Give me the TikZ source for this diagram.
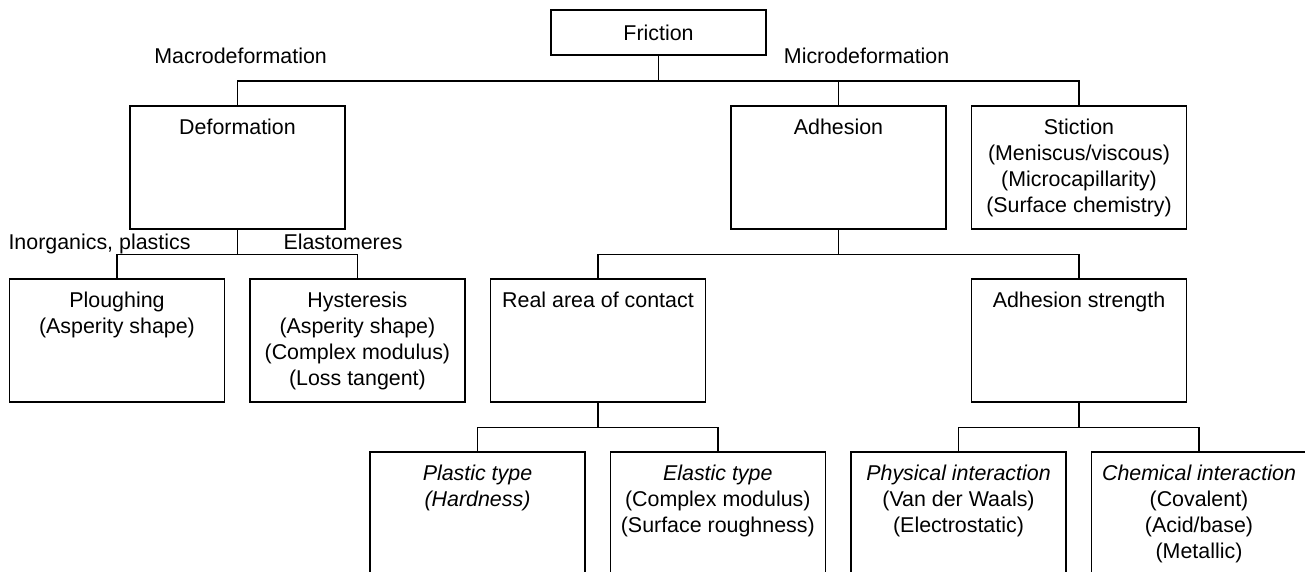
\documentclass[tikz,border=0pt]{standalone}
\usepackage{fontspec}
\setmainfont{Liberation Sans}
\newcommand\fs{\fontsize{21.4pt}{26pt}\selectfont}
\begin{document}
\begin{tikzpicture}[x=1pt,y=-1pt,
  box/.style={draw, line width=1.6pt, minimum width=215pt, minimum height=123pt, inner sep=0pt, anchor=north},
  topbox/.style={draw, line width=1.6pt, minimum width=215pt, minimum height=45pt, inner sep=0pt, font=\fs},
  txt/.style={anchor=north, align=center, inner sep=0pt, font=\fs},
  lab/.style={anchor=base, inner sep=0pt, font=\fs},
  conn/.style={line width=1.6pt}]
\useasboundingbox (0,0) rectangle (1305,572);
\clip (0,0) rectangle (1305,572);

% level 0
\node[topbox] (fric) at (658.5,32.5) {Friction};

% level 1
\node[box] (def) at (237.5,105) {};
\node[box] (adh) at (838.5,105) {};
\node[box] (sti) at (1079,105) {};
\node[txt] (deft) at ([yshift=-11.5pt]def.north) {\strut Deformation};
\node[txt] (adht) at ([yshift=-11.5pt]adh.north) {\strut Adhesion};
\node[txt] (stit) at ([yshift=-11.5pt]sti.north) {\strut Stiction\\(Meniscus/viscous)\\(Microcapillarity)\\(Surface chemistry)};

\node[lab] (macro) at (240.6,63.7) {Macrodeformation};
\node[lab] (micro) at (866.6,63.7) {Microdeformation};

\draw[conn] (fric.south) -- ++(0,25) coordinate (j0);
\draw[conn] (def.north) -- (def.north |- j0) -- (sti.north |- j0) -- (sti.north);
\draw[conn] (adh.north) -- (adh.north |- j0);

% level 2
\node[box] (plo) at (117,278) {};
\node[box] (hys) at (357.4,278) {};
\node[box] (rac) at (598,278) {};
\node[box] (ads) at (1079,278) {};
\node[txt] (plot) at ([yshift=-11.5pt]plo.north) {\strut Ploughing\\(Asperity shape)};
\node[txt] (hyst) at ([yshift=-11.5pt]hys.north) {\strut Hysteresis\\(Asperity shape)\\(Complex modulus)\\(Loss tangent)};
\node[txt] (ract) at ([yshift=-11.5pt]rac.north) {\strut Real area of contact};
\node[txt] (adst) at ([yshift=-11.5pt]ads.north) {\strut Adhesion strength};

\node[lab] (inorg) at (99.5,249) {Inorganics, plastics};
\node[lab] (elas) at (343,249) {Elastomeres};

\draw[conn] (def.south) -- ++(0,25) coordinate (j1);
\draw[conn] (plo.north) -- (plo.north |- j1) -- (hys.north |- j1) -- (hys.north);
\draw[conn] (adh.south) -- ++(0,25) coordinate (j2);
\draw[conn] (rac.north) -- (rac.north |- j2) -- (ads.north |- j2) -- (ads.north);

% level 3
\node[box] (pla) at (477.5,451) {};
\node[box] (ela) at (717.8,451) {};
\node[box] (phy) at (958.5,451) {};
\node[box] (che) at (1199,451) {};
\node[txt] (plat) at ([yshift=-11pt]pla.north) {{\itshape\strut Plastic type}\\{\itshape (Hardness)}};
\node[txt] (elat) at ([yshift=-11pt]ela.north) {{\itshape\strut Elastic type}\\(Complex modulus)\\(Surface roughness)};
\node[txt] (phyt) at ([yshift=-11pt]phy.north) {{\itshape\strut Physical interaction}\\(Van der Waals)\\(Electrostatic)};
\node[txt] (chet) at ([yshift=-11pt]che.north) {{\itshape\strut Chemical interaction}\\(Covalent)\\(Acid/base)\\(Metallic)};

\draw[conn] (rac.south) -- ++(0,25) coordinate (j3);
\draw[conn] (pla.north) -- (pla.north |- j3) -- (ela.north |- j3) -- (ela.north);
\draw[conn] (ads.south) -- ++(0,25) coordinate (j4);
\draw[conn] (phy.north) -- (phy.north |- j4) -- (che.north |- j4) -- (che.north);
\end{tikzpicture}
\end{document}
